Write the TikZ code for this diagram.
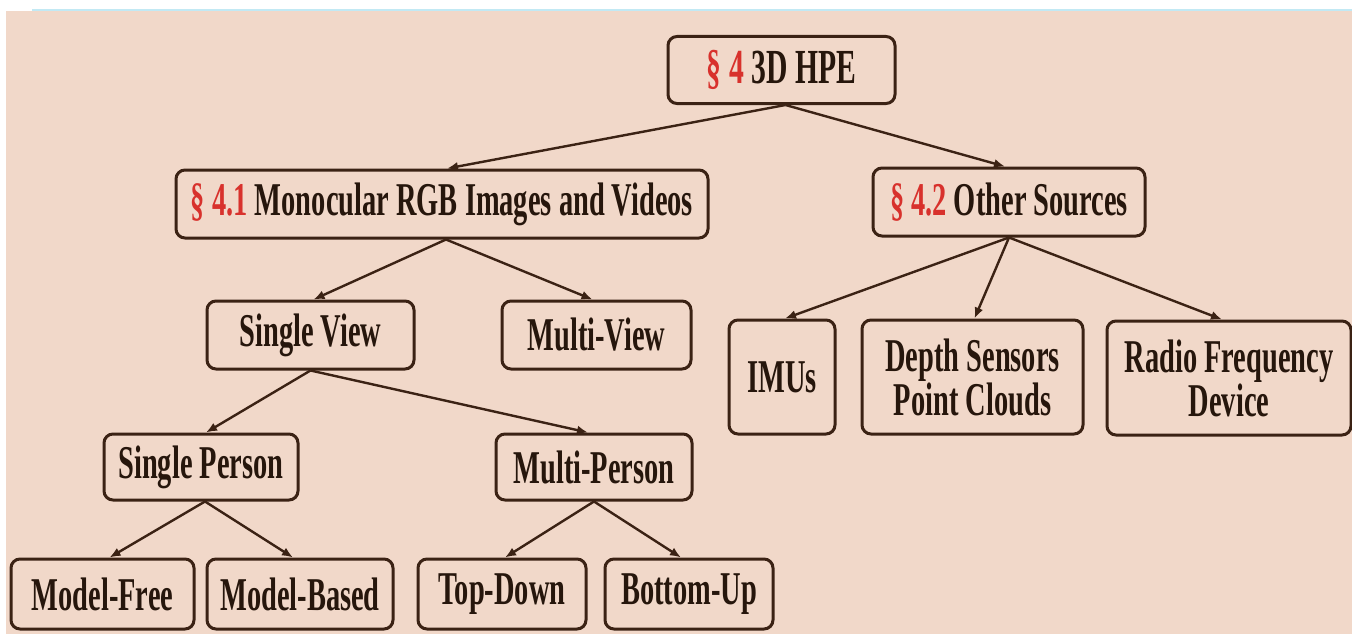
\documentclass[tikz,border=0pt]{standalone}
\usepackage{fontspec}
\setmainfont{Liberation Serif}[FakeStretch=0.605]
\usetikzlibrary{arrows.meta}
\definecolor{bg}{HTML}{F1D8C9}
\definecolor{brd}{HTML}{3B2214}
\definecolor{txt}{HTML}{26160C}
\definecolor{secred}{HTML}{D8312C}
\definecolor{topline}{HTML}{C2E9F4}
\begin{document}
\begin{tikzpicture}[x=1pt,y=-1pt,
  box/.style={draw=brd, line width=3pt, rounded corners=9pt, fill=bg, inner sep=0pt,
    align=center, text=txt, font=\fontsize{47}{44}\selectfont\bfseries},
  conn/.style={draw=brd, line width=2.4pt, -{Latex[length=11pt,width=9pt]}}]
\useasboundingbox (0,0) rectangle (1352,634);
\fill[white] (0,0) rectangle (1352,634);
\fill[bg] (6,11) rectangle (1352,634);
\fill[topline] (32,9) rectangle (1352,11);

\node[box, minimum width=227pt, minimum height=67pt, font=\fontsize{49}{44}\selectfont\bfseries] (root) at (781.5,70) {{\color{secred}§ 4} 3D HPE};
\node[box, minimum width=532pt, minimum height=68pt] (m41) at (442,204) {{\color{secred}§ 4.1} Monocular RGB Images and Videos};
\node[box, minimum width=272pt, minimum height=68pt] (m42) at (1009,202) {{\color{secred}§ 4.2} Other Sources};
\node[box, minimum width=207pt, minimum height=68pt] (sv) at (310.5,335) {Single View};
\node[box, minimum width=189pt, minimum height=68pt] (mv) at (596.5,335) {Multi-View};
\node[box, minimum width=106pt, minimum height=114pt] (imu) at (782,377) {IMUs};
\node[box, minimum width=221pt, minimum height=114pt] (dep) at (972.5,377) {Depth Sensors\\Point Clouds};
\node[box, minimum width=244pt, minimum height=114pt] (rad) at (1229,378) {Radio Frequency\\Device};
\node[box, minimum width=194pt, minimum height=66pt] (sp) at (201,467) {Single Person};
\node[box, minimum width=196pt, minimum height=66pt] (mp) at (594,467) {Multi-Person};
\node[box, minimum width=183pt, minimum height=70pt] (mf) at (102.5,594) {Model-Free};
\node[box, minimum width=186pt, minimum height=70pt] (mb) at (300,594) {Model-Based};
\node[box, minimum width=168pt, minimum height=70pt] (td) at (502,594) {Top-Down};
\node[box, minimum width=168pt, minimum height=70pt] (bu) at (689,594) {Bottom-Up};

\draw[conn] ([xshift=4pt]root.south) -- ([xshift=5pt]m41.north);
\draw[conn] ([xshift=4pt]root.south) -- ([xshift=-4pt]m42.north);
\draw[conn] ([xshift=4pt]m41.south) -- ([xshift=3pt]sv.north);
\draw[conn] ([xshift=4pt]m41.south) -- ([xshift=-4pt]mv.north);
\draw[conn] (m42.south) -- ([xshift=3pt]imu.north);
\draw[conn] (m42.south) -- ([xshift=2pt]dep.north);
\draw[conn] (m42.south) -- ([xshift=-7pt]rad.north);
\draw[conn] (sv.south) -- ([xshift=5pt]sp.north);
\draw[conn] (sv.south) -- ([xshift=-6pt]mp.north);
\draw[conn] ([xshift=4pt]sp.south) -- ([xshift=7pt]mf.north);
\draw[conn] ([xshift=4pt]sp.south) -- ([xshift=-7pt]mb.north);
\draw[conn] (mp.south) -- ([xshift=3pt]td.north);
\draw[conn] (mp.south) -- ([xshift=-8pt]bu.north);
\end{tikzpicture}
\end{document}
